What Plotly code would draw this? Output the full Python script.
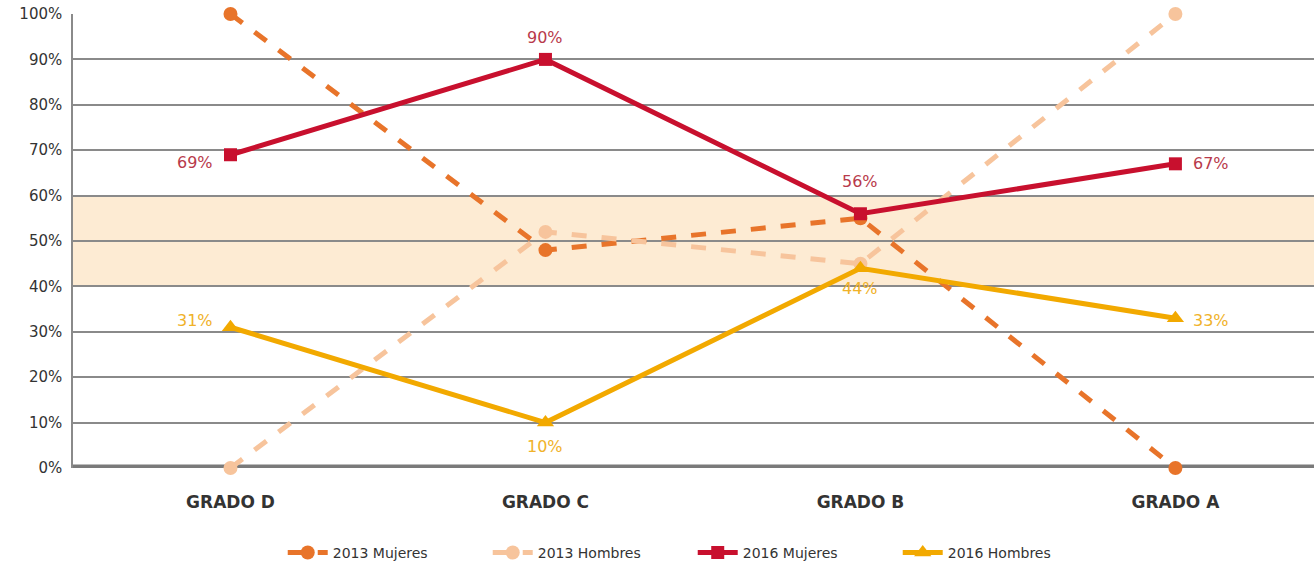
import plotly.graph_objects as go

grados = ["GRADO D", "GRADO C", "GRADO B", "GRADO A"]
mujeres_2013 = [100, 48, 55, 0]
hombres_2013 = [0, 52, 45, 100]
mujeres_2016 = [69, 90, 56, 67]
hombres_2016 = [31, 10, 44, 33]
y_ticks = [0, 10, 20, 30, 40, 50, 60, 70, 80, 90, 100]

# label offsets (px) relative to each 2016 point
mujeres_2016_shift = [(-35, -8), (0, 22), (0, 32), (36, 0)]
hombres_2016_shift = [(-35, 7), (0, -24), (0, -20), (36, -2)]

FONT = "DejaVu Sans, Verdana, sans-serif"
RED = "#c8102e"
AMBER = "#f2a900"

fig = go.Figure()

fig.add_trace(go.Scatter(
    x=grados, y=mujeres_2013, name="2013 Mujeres", mode="lines+markers",
    line=dict(color="#e8742a", width=5, dash="dash"),
    marker=dict(symbol="circle", size=14, color="#e8742a"),
    cliponaxis=False,
))
fig.add_trace(go.Scatter(
    x=grados, y=hombres_2013, name="2013 Hombres", mode="lines+markers",
    line=dict(color="#f7c49c", width=5, dash="dash"),
    marker=dict(symbol="circle", size=14, color="#f7c49c"),
    cliponaxis=False,
))
fig.add_trace(go.Scatter(
    x=grados, y=mujeres_2016, name="2016 Mujeres", mode="lines+markers",
    line=dict(color=RED, width=5),
    marker=dict(symbol="square", size=13, color=RED),
    cliponaxis=False,
))
fig.add_trace(go.Scatter(
    x=grados, y=hombres_2016, name="2016 Hombres", mode="lines+markers",
    line=dict(color=AMBER, width=5),
    marker=dict(symbol="triangle-up", size=15, color=AMBER),
    cliponaxis=False,
))

# value labels for the 2016 series
for series, shifts, color in [(mujeres_2016, mujeres_2016_shift, "#b83a4b"),
                              (hombres_2016, hombres_2016_shift, "#f0b22a")]:
    for g, v, (dx, dy) in zip(grados, series, shifts):
        fig.add_annotation(x=g, y=v, text=f"{v}%", showarrow=False,
                           xshift=dx, yshift=dy,
                           font=dict(family=FONT, size=16, color=color))

# shaded parity band between 40% and 60%
fig.add_shape(type="rect", xref="paper", yref="y", x0=0, x1=1, y0=40, y1=60,
              fillcolor="#fdebd3", line_width=0, layer="below")
# heavy baseline at 0%
fig.add_shape(type="line", xref="paper", yref="y", x0=0, x1=1, y0=0, y1=0,
              line=dict(color="#7a7a7a", width=7), layer="below")

fig.update_layout(
    width=1314, height=565,
    margin=dict(l=73, r=0, t=14, b=97, autoexpand=False),
    paper_bgcolor="white", plot_bgcolor="white",
    font=dict(family=FONT, color="#333333"),
    showlegend=True,
    legend=dict(orientation="h", x=0.169, xanchor="left", y=-0.187, yanchor="middle",
                font=dict(family=FONT, size=14, color="#333333"),
                itemwidth=40, entrywidth=150, entrywidthmode="pixels"),
    xaxis=dict(
        type="category", range=[-0.5, 3.44], showgrid=False, zeroline=False,
        showline=False,
        tickfont=dict(family=FONT, size=17, color="#333333", weight="bold"),
        ticklabelstandoff=22,
    ),
    yaxis=dict(
        range=[0, 100], tickvals=y_ticks, ticktext=[f"{v}%" for v in y_ticks],
        showgrid=True, gridcolor="#8a8a8a", gridwidth=1.5, zeroline=False,
        showline=True, linecolor="#8a8a8a", linewidth=1.5,
        tickfont=dict(family=FONT, size=15, color="#333333"),
        ticklabelstandoff=6,
    ),
)

fig.write_html("out.html")
